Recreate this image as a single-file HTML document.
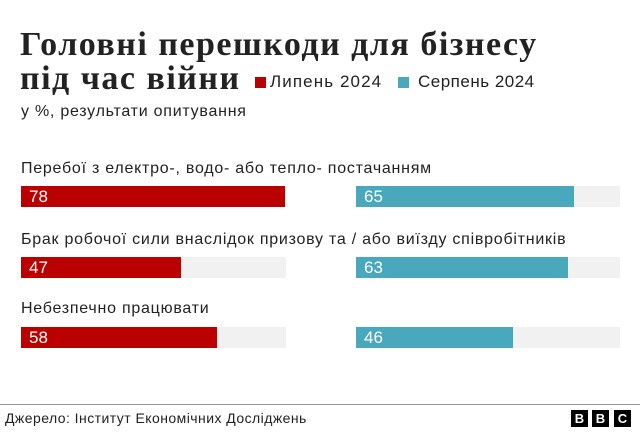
<!DOCTYPE html>
<html><head><meta charset="utf-8"><style>
body{margin:0;width:640px;height:436px;background:#fff;position:relative;overflow:hidden;font-family:"Liberation Sans",sans-serif;color:#222}
.a{position:absolute;white-space:nowrap}
.t{font-family:"Liberation Serif",serif;font-weight:bold;font-size:34px;left:20px;letter-spacing:1.5px}
.bg{position:absolute;height:21px;background:#f1f1f1}
.b{position:absolute;height:21px;color:#fff;font-size:17px;line-height:21px;padding-left:8px;box-sizing:border-box}
.r{background:#bb0000}.c{background:#4aa8bc}
.l{font-size:16px;left:21px;letter-spacing:0.75px}
</style></head><body>
<div class="a t" style="top:26px">Головні перешкоди для бізнесу</div>
<div class="a t" style="top:60px">під час війни</div>
<div class="a" style="left:255px;top:77px;width:11px;height:11px;background:#bb0000"></div>
<div class="a" style="left:270px;top:72px;font-size:17px;letter-spacing:1.1px">Липень 2024</div>
<div class="a" style="left:398px;top:77px;width:11px;height:11px;background:#4aa8bc"></div>
<div class="a" style="left:418px;top:72px;font-size:17px;letter-spacing:0.5px">Серпень 2024</div>
<div class="a" style="left:21px;top:103px;font-size:16px;letter-spacing:0.75px">у %, результати опитування</div>

<div class="a l" style="top:160px">Перебої з електро-, водо- або тепло- постачанням</div>
<div class="bg" style="left:21px;top:186px;width:265px"></div>
<div class="b r" style="left:21px;top:186px;width:264px">78</div>
<div class="bg" style="left:356px;top:186px;width:264px"></div>
<div class="b c" style="left:356px;top:186px;width:218px">65</div>

<div class="a l" style="top:231px">Брак робочої сили внаслідок призову та / або виїзду співробітників</div>
<div class="bg" style="left:21px;top:257px;width:265px"></div>
<div class="b r" style="left:21px;top:257px;width:160px">47</div>
<div class="bg" style="left:356px;top:257px;width:264px"></div>
<div class="b c" style="left:356px;top:257px;width:212px">63</div>

<div class="a l" style="top:300px">Небезпечно працювати</div>
<div class="bg" style="left:21px;top:327px;width:265px"></div>
<div class="b r" style="left:21px;top:327px;width:196px">58</div>
<div class="bg" style="left:356px;top:327px;width:264px"></div>
<div class="b c" style="left:356px;top:327px;width:157px">46</div>

<div class="a" style="left:0;top:404px;width:640px;height:1px;background:#999"></div>
<div class="a" style="left:5px;top:410px;font-size:14px;letter-spacing:0.45px">Джерело: Інститут Економічних Досліджень</div>
<div class="a" style="left:571px;top:410px;width:17px;height:17px;background:#000;color:#fff;font-weight:bold;font-size:13px;line-height:17px;text-align:center">B</div>
<div class="a" style="left:592px;top:410px;width:17px;height:17px;background:#000;color:#fff;font-weight:bold;font-size:13px;line-height:17px;text-align:center">B</div>
<div class="a" style="left:614px;top:410px;width:17px;height:17px;background:#000;color:#fff;font-weight:bold;font-size:13px;line-height:17px;text-align:center">C</div>
</body></html>
